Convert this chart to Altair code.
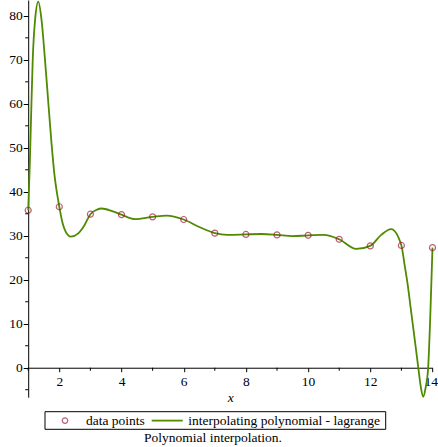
import altair as alt
import pandas as pd

# data points being interpolated
pts_x = [1, 2, 3, 4, 5, 6, 7, 8, 9, 10, 11, 12, 13, 14]
pts_y = [35.8, 36.6, 34.9, 34.8, 34.3, 33.7, 30.6, 30.3, 30.2, 30.1, 29.2, 27.7, 27.8, 27.3]

# interpolating polynomial, sampled along x
curve_x = [1.0, 1.05, 1.09, 1.145, 1.22, 1.325, 1.43, 1.54, 1.65, 1.75, 1.85, 1.93,
           2.0, 2.1, 2.2, 2.37, 2.6, 2.8, 3.0, 3.2, 3.36, 3.7, 4.0, 4.43, 5.0, 5.45,
           6.0, 6.5, 7.0, 7.4, 8.0, 8.5, 9.0, 9.5, 10.0, 10.5, 11.0, 11.55, 12.0,
           12.35, 12.67, 13.0, 13.1, 13.2, 13.3, 13.4, 13.54, 13.62, 13.70, 13.78,
           13.86, 13.93, 14.0]
curve_y = [35.8, 46.0, 56.3, 69.9, 79.0, 83.2, 79.0, 70.0, 60.0, 51.0, 43.5, 39.5,
           36.6, 33.0, 31.0, 29.8, 30.5, 32.3, 34.9, 35.9, 36.2, 35.6, 34.8, 33.8, 34.3, 34.6,
           33.7, 32.0, 30.6, 30.2, 30.3, 30.4, 30.2, 29.9, 30.1, 30.2, 29.2, 27.0, 27.7,
           30.2, 31.5, 27.8, 23.5, 19.0, 13.5, 8.0, 0.2, -4.2, -6.6, -4.5,
           0.0, 12.0, 27.3]

major_x = [2, 4, 6, 8, 10, 12, 14]
minor_x = [1, 3, 5, 7, 9, 11, 13]
major_y = [0, 10, 20, 30, 40, 50, 60, 70, 80]
minor_y = [-5, 5, 15, 25, 35, 45, 55, 65, 75]

X_MIN, X_MAX = 1, 14
Y_MIN, Y_MAX = -6.7, 83.6
W, H = 404.3, 397.2
Y0 = H * Y_MAX / (Y_MAX - Y_MIN)  # pixel row of y = 0

FONT = "Liberation Serif"
FS = 13.5
GREEN = "#4f8a00"
RED = "#a01c3a"

xs = alt.Scale(domain=[X_MIN, X_MAX], nice=False, zero=False)
ys = alt.Scale(domain=[Y_MIN, Y_MAX], nice=False, zero=False)

x_axis = alt.Axis(values=major_x, offset=-(H - Y0), tickSize=4, labelPadding=3,
                  title="x", titleFontStyle="italic", titlePadding=2,
                  labelFlush=1, labelFlushOffset=5)
y_axis = alt.Axis(values=major_y, tickSize=5, labelPadding=1, title=None,
                  labelFlush=False)

curve_df = pd.DataFrame({"x": curve_x, "y": curve_y})
pts_df = pd.DataFrame({"x": pts_x, "y": pts_y})

curve = alt.Chart(curve_df).mark_line(
    interpolate="monotone", color=GREEN, strokeWidth=1.8
).encode(
    x=alt.X("x:Q", scale=xs, axis=x_axis),
    y=alt.Y("y:Q", scale=ys, axis=y_axis),
)

points = alt.Chart(pts_df).mark_point(
    shape="circle", filled=False, size=36, strokeWidth=1.2, color=RED
).encode(
    x=alt.X("x:Q", scale=xs, axis=x_axis),
    y=alt.Y("y:Q", scale=ys, axis=y_axis),
)

# minor ticks on both axes
ticks_y = alt.Chart(pd.DataFrame({"y": minor_y})).mark_rule(
    color="black", strokeWidth=1
).encode(
    y=alt.Y("y:Q", scale=ys, axis=y_axis),
    x=alt.value(-3),
    x2=alt.value(0),
)
ticks_x = alt.Chart(pd.DataFrame({"x": minor_x})).mark_rule(
    color="black", strokeWidth=1
).encode(
    x=alt.X("x:Q", scale=xs, axis=x_axis),
    y=alt.value(Y0),
    y2=alt.value(Y0 + 3),
)

one = alt.Data(values=[{"k": 1}])

# legend box below the plot
box = alt.Chart(one).mark_rect(fill="white", stroke="black", strokeWidth=1).encode(
    x=alt.value(16.8), x2=alt.value(357.5), y=alt.value(411.7), y2=alt.value(429.3)
)
leg_pt = alt.Chart(one).mark_point(
    shape="circle", filled=False, size=30, strokeWidth=1.2, color=RED
).encode(x=alt.value(36.8), y=alt.value(420.6))
leg_pt_txt = alt.Chart(one).mark_text(
    align="left", baseline="middle", font=FONT, fontSize=FS, color="black"
).encode(x=alt.value(57.8), y=alt.value(420.8), text=alt.value("data points"))
leg_line = alt.Chart(one).mark_rule(color=GREEN, strokeWidth=1.8).encode(
    x=alt.value(123.5), x2=alt.value(154.5), y=alt.value(420.6)
)
leg_line_txt = alt.Chart(one).mark_text(
    align="left", baseline="middle", font=FONT, fontSize=FS, color="black"
).encode(x=alt.value(160.1), y=alt.value(420.8),
         text=alt.value("interpolating polynomial - lagrange"))
caption = alt.Chart(one).mark_text(
    align="center", baseline="middle", font=FONT, fontSize=FS, color="black"
).encode(x=alt.value(184.8), y=alt.value(437.8),
         text=alt.value("Polynomial interpolation."))

chart = alt.layer(
    curve, points, ticks_y, ticks_x,
    box, leg_pt, leg_pt_txt, leg_line, leg_line_txt, caption
).properties(
    width=W, height=H,
    autosize="none",
    background="white",
    padding={"left": 28.2, "top": 0, "right": 5.5, "bottom": 49.8},
).configure_view(
    stroke=None
).configure_axis(
    labelFont=FONT, labelFontSize=FS, labelColor="black",
    titleFont=FONT, titleFontSize=FS, titleFontWeight="normal", titleColor="black",
    domainColor="black", tickColor="black", grid=False,
    labelOverlap=False, format="d",
)

chart.save("out.html", embed_options={"renderer": "svg", "actions": False})
